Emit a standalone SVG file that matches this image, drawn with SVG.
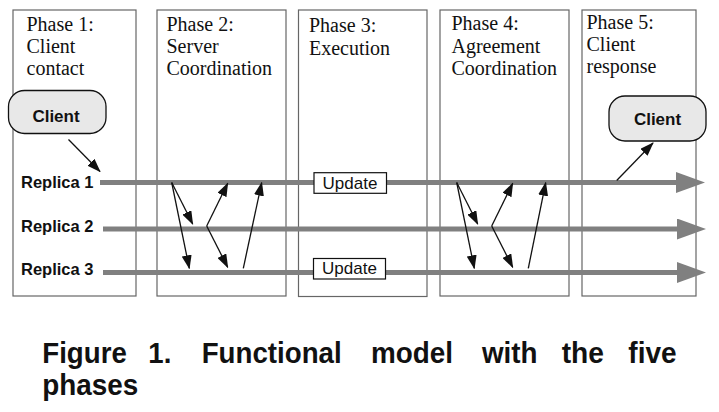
<svg xmlns="http://www.w3.org/2000/svg" width="719" height="412" viewBox="0 0 719 412">
<style>
.phase{fill:#fff;stroke:#666;stroke-width:1.2}
.pt{font-family:"Liberation Serif","Times New Roman",serif;font-size:20px;fill:#111}
.client{fill:#e8e8e8;stroke:#111;stroke-width:1.3}
.ct{font-family:"Liberation Sans",Arial,sans-serif;font-weight:bold;font-size:17px;fill:#111;text-anchor:middle}
.rl{font-family:"Liberation Sans",Arial,sans-serif;font-weight:bold;font-size:16.5px;fill:#111}
.rep{stroke:#808080;stroke-width:5;fill:none}
.msg{stroke:#111;stroke-width:1.3;fill:none;marker-end:url(#ah)}
.ub{fill:#fff;stroke:#111;stroke-width:1.2}
.ut{font-family:"Liberation Sans",Arial,sans-serif;font-size:17px;fill:#111;text-anchor:middle}
.cap{font-family:"Liberation Sans",Arial,sans-serif;font-weight:bold;font-size:29.5px;fill:#111}
</style>
<defs>
<marker id="ah" markerUnits="userSpaceOnUse" markerWidth="14" markerHeight="10" refX="13" refY="5" orient="auto">
<path d="M0,0 L14,5 L0,10 z" fill="#111"/>
</marker>
<marker id="gh" markerUnits="userSpaceOnUse" markerWidth="29" markerHeight="21" refX="14" refY="10.5" orient="auto">
<path d="M0,0 L29,10.5 L0,21 z" fill="#808080"/>
</marker>
</defs>
<g id="phase1"><rect class="phase" x="13" y="10" width="123" height="286"/>
<text class="pt" x="26.5" y="31">Phase 1:</text><text class="pt" x="26.5" y="53">Client</text><text class="pt" x="26.5" y="75">contact</text></g>
<g id="phase2"><rect class="phase" x="157" y="10" width="129" height="286"/>
<text class="pt" x="166.5" y="31">Phase 2:</text><text class="pt" x="166.5" y="53">Server</text><text class="pt" x="166.5" y="75">Coordination</text></g>
<g id="phase3"><rect class="phase" x="298.5" y="10" width="128.5" height="286.5"/>
<text class="pt" x="309" y="32">Phase 3:</text><text class="pt" x="309" y="54.5">Execution</text></g>
<g id="phase4"><rect class="phase" x="440" y="10" width="129" height="286"/>
<text class="pt" x="451.5" y="30">Phase 4:</text><text class="pt" x="451.5" y="52.5">Agreement</text><text class="pt" x="451.5" y="75">Coordination</text></g>
<g id="phase5"><rect class="phase" x="582" y="10" width="114" height="286"/>
<text class="pt" x="586.5" y="28.5">Phase 5:</text><text class="pt" x="586.5" y="51">Client</text><text class="pt" x="586.5" y="73">response</text></g>
<g id="connectors">
<line class="rep" x1="100" y1="182.5" x2="690" y2="182.5" marker-end="url(#gh)"/>
<line class="rep" x1="103" y1="229" x2="691" y2="229" marker-end="url(#gh)"/>
<line class="rep" x1="103" y1="272.5" x2="691" y2="272.5" marker-end="url(#gh)"/>
<line class="msg" x1="68.5" y1="139.5" x2="100" y2="171.5"/>
<line class="msg" x1="171.7" y1="182.5" x2="192.7" y2="224"/>
<line class="msg" x1="171.7" y1="182.5" x2="189.3" y2="268.3"/>
<line class="msg" x1="206.7" y1="226" x2="227.7" y2="183.3"/>
<line class="msg" x1="206.7" y1="226" x2="227.7" y2="267.3"/>
<line class="msg" x1="243.3" y1="268.3" x2="261.7" y2="182.7"/>
<line class="msg" x1="456.7" y1="182.5" x2="477.7" y2="224"/>
<line class="msg" x1="456.7" y1="182.5" x2="474.3" y2="268.3"/>
<line class="msg" x1="491.7" y1="226" x2="512.7" y2="183.3"/>
<line class="msg" x1="491.7" y1="226" x2="512.7" y2="267.3"/>
<line class="msg" x1="528.3" y1="268.3" x2="545.7" y2="182.7"/>
<line class="msg" x1="616.7" y1="180.5" x2="653" y2="143"/>
</g>
<g id="client1"><rect class="client" x="8.5" y="90.5" width="97.5" height="43" rx="16"/><text class="ct" x="56" y="121.5">Client</text></g>
<g id="client2"><rect class="client" x="609" y="96" width="97" height="45" rx="16"/><text class="ct" x="657.5" y="124.5">Client</text></g>
<g id="replica1"><text class="rl" x="21" y="188">Replica 1</text></g>
<g id="replica2"><text class="rl" x="21" y="232">Replica 2</text></g>
<g id="replica3"><text class="rl" x="21" y="274.5">Replica 3</text></g>
<g id="update1"><rect class="ub" x="314" y="172.7" width="72.5" height="20.6"/><text class="ut" x="350" y="188.5">Update</text></g>
<g id="update2"><rect class="ub" x="313.5" y="258.5" width="72" height="20.5"/><text class="ut" x="349.5" y="274.3">Update</text></g>
<g id="caption">
<text class="cap" x="42.3" y="362.5" textLength="84.5" lengthAdjust="spacingAndGlyphs">Figure</text>
<text class="cap" x="148.3" y="362.5" textLength="23" lengthAdjust="spacingAndGlyphs">1.</text>
<text class="cap" x="201.7" y="362.5" textLength="140" lengthAdjust="spacingAndGlyphs">Functional</text>
<text class="cap" x="371" y="362.5" textLength="82" lengthAdjust="spacingAndGlyphs">model</text>
<text class="cap" x="482" y="362.5" textLength="55.5" lengthAdjust="spacingAndGlyphs">with</text>
<text class="cap" x="561.7" y="362.5" textLength="42.3" lengthAdjust="spacingAndGlyphs">the</text>
<text class="cap" x="628.3" y="362.5" textLength="48.3" lengthAdjust="spacingAndGlyphs">five</text>
<text class="cap" x="42.3" y="394.5" textLength="96" lengthAdjust="spacingAndGlyphs">phases</text>
</g>
</svg>
